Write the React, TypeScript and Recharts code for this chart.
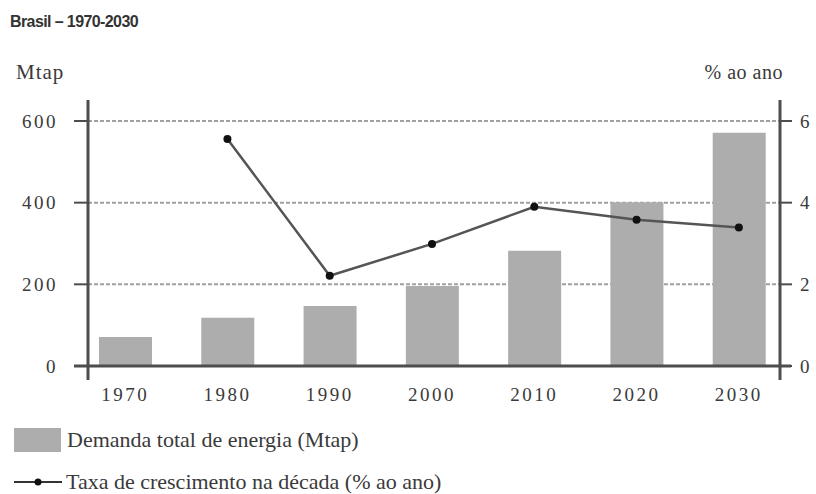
import React from 'react'
import {
    ComposedChart,
    Bar,
    Line,
    XAxis,
    YAxis,
    CartesianGrid,
    ReferenceLine
} from 'recharts'

const years = ['1970', '1980', '1990', '2000', '2010', '2020', '2030']
const demanda = [71, 118, 147, 196, 282, 401, 571]
const taxa = [null, 5.56, 2.21, 2.99, 3.9, 3.58, 3.39]
const leftTicks = [0, 200, 400, 600]
const rightTicks = [0, 2, 4, 6]

const serif = '"Liberation Serif", "DejaVu Serif", serif'
const axisColor = '#4d4d4d'
const textColor = '#3a3a3a'

const chartData = years.map((year, i) => ({
    year,
    demanda: demanda[i],
    taxa: taxa[i]
}))

// linha do eixo x, um pouco além dos dois eixos verticais
const ZeroLine = (props: any) => {
    const { x1, x2, y1 } = props
    return (
        <line
            x1={x1 - 14}
            x2={x2 + 11}
            y1={y1}
            y2={y1}
            stroke={axisColor}
            strokeWidth={3}
        />
    )
}

const tickStyle = { fontSize: 19, fill: textColor, fontFamily: serif, letterSpacing: 2.5 }

const App = () => {
    return (
        <div style={{ position: 'absolute', left: 0, top: 0, width: 816, height: 494, background: '#fff', fontFamily: serif }}>
            <div style={{ position: 'absolute', left: 10, top: 13, fontFamily: '"Liberation Sans", sans-serif', fontWeight: 700, fontSize: 16, letterSpacing: -0.6, color: '#333' }}>
                Brasil – 1970-2030
            </div>
            <div style={{ position: 'absolute', left: 16, top: 60, fontSize: 21, letterSpacing: 1, color: textColor }}>Mtap</div>
            <div style={{ position: 'absolute', right: 33, top: 61, fontSize: 20, letterSpacing: 0.5, color: textColor }}>% ao ano</div>

            <ComposedChart
                width={816}
                height={494}
                data={chartData}
                margin={{ top: 100, right: 0, left: 0, bottom: 84 }}
            >
                <CartesianGrid
                    vertical={false}
                    yAxisId="left"
                    stroke="#a0a0a0"
                    strokeWidth={2}
                    strokeDasharray="4 2"
                    horizontalValues={[200, 400, 600]}
                />
                <XAxis
                    dataKey="year"
                    axisLine={false}
                    tickLine={false}
                    height={30}
                    padding={{ left: -14, right: -10 }}
                    tick={tickStyle}
                />
                <YAxis
                    yAxisId="left"
                    width={88}
                    domain={[-34.3, 651.4]}
                    ticks={leftTicks}
                    allowDataOverflow
                    stroke={axisColor}
                    axisLine={{ stroke: axisColor, strokeWidth: 3 }}
                    tickLine={{ stroke: axisColor, strokeWidth: 2 }}
                    tickSize={14}
                    tickMargin={16}
                    tick={tickStyle}
                />
                <YAxis
                    yAxisId="right"
                    orientation="right"
                    width={36}
                    domain={[-0.343, 6.514]}
                    ticks={rightTicks}
                    allowDataOverflow
                    axisLine={{ stroke: axisColor, strokeWidth: 3 }}
                    tickLine={{ stroke: axisColor, strokeWidth: 2 }}
                    tickSize={12}
                    tickMargin={8}
                    tick={tickStyle}
                />
                <Bar
                    yAxisId="left"
                    dataKey="demanda"
                    fill="#adadad"
                    barSize={53}
                    isAnimationActive={false}
                />
                <ReferenceLine yAxisId="left" y={0} shape={ZeroLine} />
                <Line
                    yAxisId="right"
                    dataKey="taxa"
                    stroke="#555"
                    strokeWidth={2.5}
                    dot={{ r: 4, fill: '#111', stroke: 'none' }}
                    isAnimationActive={false}
                />
            </ComposedChart>

            <div style={{ position: 'absolute', left: 14, top: 428, width: 47, height: 24, background: '#adadad' }} />
            <div style={{ position: 'absolute', left: 67, top: 428, fontSize: 22, color: textColor, lineHeight: '24px' }}>
                Demanda total de energia (Mtap)
            </div>
            <svg style={{ position: 'absolute', left: 12, top: 472 }} width={52} height={20}>
                <line x1={2} x2={50} y1={10} y2={10} stroke="#333" strokeWidth={2} />
                <circle cx={26} cy={10} r={3.5} fill="#111" />
            </svg>
            <div style={{ position: 'absolute', left: 66, top: 470, fontSize: 22, color: textColor, lineHeight: '24px' }}>
                Taxa de crescimento na década (% ao ano)
            </div>
        </div>
    )
}

export default App
